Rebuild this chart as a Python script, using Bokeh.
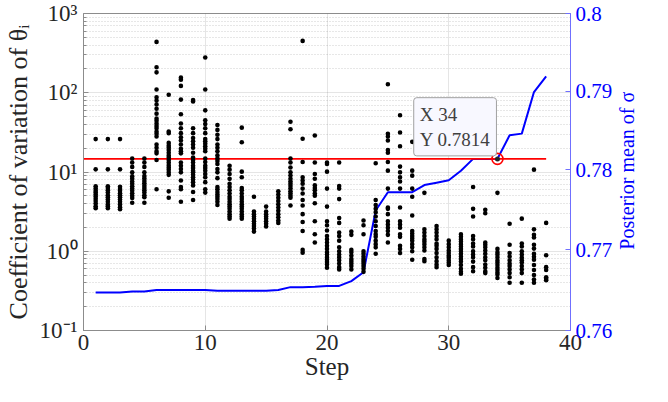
import math
from bokeh.plotting import figure
from bokeh.models import (Range1d, LinearAxis, FixedTicker, CustomJSTickFormatter,
                          ColumnDataSource, Label)
from bokeh.embed import file_html
from bokeh.resources import INLINE

# ---------------- data ----------------
steps = list(range(1, 39))

cv_step01 = [26, 10.8, 6.6, 6.2, 5.8, 5.5, 5.2, 4.9, 4.6, 4.3, 4.0, 3.7, 3.5]
cv_step02 = [26, 10.8, 6.6, 6.3, 5.9, 5.5, 5.1, 4.8, 4.5, 4.2, 3.9, 3.7, 3.5]
cv_step03 = [26, 10.8, 6.5, 6.1, 5.8, 5.4, 5.1, 4.8, 4.5, 4.2, 3.9, 3.6, 3.4]
cv_step04 = [14.8, 13.2, 11.6, 9.9, 8.8, 8.2, 7.6, 7.1, 6.6, 6.2, 5.8, 5.4, 5.0, 4.7, 4.1]
cv_step05 = [14.8, 13.2, 11.6, 9.9, 8.9, 8.3, 7.7, 7.2, 6.7, 6.3, 5.9, 5.5, 5.1, 4.8, 4.1]
cv_step06 = [438, 210, 181, 110, 87.6, 79.6, 71, 62.9, 54.5, 47.3, 44.3, 41, 38, 35.6,
             32.4, 30.3, 28.1, 22.2, 20.2, 18.3, 17.2, 14.2, 6.05]
cv_step07 = [94.5, 32.4, 30.9, 23.3, 21.5, 20.2, 18.9, 17.5, 16.2, 15.2, 14.2, 13.2,
             12.2, 11.4, 10.7, 9.9, 9.2, 5.7, 4.73]
cv_step08 = [155, 146, 122, 82, 53.5, 41, 35.6, 30.9, 27.5, 25, 22.2, 19.6, 18.3, 17.2,
             13.2, 12, 10.9, 9.9, 7.8, 6.47, 6.05, 4.22]
cv_step09 = [81, 77.4, 35.6, 30.9, 26.8, 24.4, 22.2, 20.2, 17.5, 15.2, 14.2, 13.2, 12,
             11.2, 10.4, 9.9, 9.2, 8.6, 8.04, 7.45, 6.78, 5.6, 4.43]
cv_step10 = [278, 110, 60, 45, 40.3, 35.6, 30.9, 26, 24.4, 22.8, 21.1, 19.6, 18.3, 14.8,
             13.4, 12, 11.2, 10.4, 9.45, 8.6, 7.45, 6.05, 5.5]
cv_step11 = [39.2, 34, 29.5, 26, 22.2, 20.2, 18.3, 16.2, 14.8, 13.8, 12.6, 10.9, 9.9,
             8.36, 6.47, 6.05, 5.6, 5.2, 4.87, 4.55, 4.22, 3.84]
cv_step12 = [12, 10.7, 9.45, 8.2, 7.1, 6.47, 5.89, 5.35, 4.87, 4.55, 4.22, 3.92, 3.66,
             3.43, 3.18, 2.94, 2.75, 2.58]
cv_step13 = [36.3, 23.7, 10.1, 8.6, 6.28, 5.89, 5.35, 4.87, 4.55, 4.22, 3.92, 3.66, 3.43,
             3.18, 2.94, 2.75, 2.58]
cv_step14 = [4.87, 3.18, 2.94, 2.75, 2.58, 2.39, 2.22, 2.08, 1.94, 1.77]
cv_step15 = [3.66, 3.18, 2.94, 2.75, 2.58, 2.39, 2.22, 2.06]
cv_step16 = [5.7, 5.2, 4.73, 4.3, 3.92, 3.56, 3.24, 2.94, 2.68, 2.44, 2.28]
cv_step17 = [43, 34.6, 14.8, 13.2, 11.4, 9.9, 9.02, 8.2, 7.6, 7.1, 6.65, 6.17, 5.7, 5.35,
             5.01, 4.73, 3.77]
cv_step18 = [451, 26.3, 13.4, 8.6, 7.8, 7.1, 6.17, 5.35, 4.43, 3.77, 2.94, 2.34, 1.8,
             1.04, 0.96]
cv_step19 = [28.9, 13.2, 9.45, 8.2, 6.78, 6.28, 5.89, 5.35, 5.01, 4.03, 2.39, 1.64, 1.29]
cv_step20 = [13.2, 12.6, 10.1, 6.17, 3.66, 2.39, 2.13, 1.83, 1.56, 1.42, 1.29, 1.17, 1.07,
             0.97, 0.91, 0.84, 0.78, 0.73, 0.68, 0.62]
cv_step21 = [13.2, 6.65, 6.17, 4.55, 2.63, 2.28, 1.72, 1.56, 1.36, 1.12, 1.0, 0.91, 0.84,
             0.77, 0.70, 0.63, 0.59]
cv_step22 = [1.77, 1.61, 1.04, 0.97, 0.88, 0.80, 0.75, 0.70, 0.65, 0.59]
cv_step23 = [2.44, 2.13, 1.64, 1.0, 0.93, 0.86, 0.80, 0.75, 0.70, 0.65, 0.60, 0.55]
cv_step24 = [12.9, 4.43, 3.84, 3.43, 3.1, 2.75, 2.39, 2.08, 1.8, 1.64, 1.52, 1.36, 1.23,
             1.12, 0.93]
cv_step25 = [128, 30.3, 28.1, 25, 18.9, 17.5, 13.4, 10.4, 6.17, 3.56, 3.43, 2.94, 2.39,
             2.17, 1.98, 1.8, 1.61, 1.29]
cv_step26 = [52, 31.5, 21.1, 11.7, 9.9, 8.6, 7.6, 6.17, 3.56, 2.39, 2.17, 1.98, 1.64,
             1.52, 1.17, 1.07, 0.95]
cv_step27 = [24, 10.4, 9.0, 6.17, 4.87, 2.83, 1.8, 1.67, 1.56, 1.46, 1.36, 1.23, 1.12,
             1.0, 0.78]
cv_step28 = [5.46, 1.89, 1.72, 1.56, 1.42, 1.33, 1.23, 1.12, 1.02, 0.80, 0.75]
cv_step29 = [2.08, 1.89, 1.72, 1.56, 1.42, 1.25, 1.17, 1.07, 0.95, 0.84, 0.75, 0.68, 0.63]
cv_step30 = [1.36, 1.23, 1.12, 1.02, 0.95, 0.88, 0.83, 0.77, 0.72, 0.67]
cv_step31 = [1.64, 1.52, 1.42, 1.33, 1.23, 1.15, 1.07, 1.0, 0.93, 0.86, 0.80, 0.74, 0.67,
             0.60, 0.55, 0.52]
cv_step32 = [6.47, 3.43, 2.75, 1.56, 1.42, 1.25, 1.15, 1.0, 0.91, 0.84, 0.74, 0.63, 0.56]
cv_step33 = [3.33, 3.02, 1.29, 1.21, 1.12, 1.02, 0.93, 0.84, 0.77, 0.68, 0.62, 0.56, 0.53]
cv_step34 = [5.46, 1.07, 0.97, 0.91, 0.84, 0.77, 0.72, 0.67, 0.62, 0.58, 0.54, 0.51, 0.46]
cv_step35 = [2.22, 1.21, 0.95, 0.86, 0.77, 0.70, 0.65, 0.59, 0.53, 0.47, 0.40]
cv_step36 = [2.58, 1.25, 1.15, 1.0, 0.91, 0.83, 0.77, 0.72, 0.65, 0.59, 0.53, 0.40]
cv_step37 = [10.7, 1.89, 1.61, 1.49, 1.21, 1.08, 0.93, 0.85, 0.78, 0.67, 0.58, 0.50,
             0.44, 0.40]
cv_step38 = [2.28, 0.89, 0.63, 0.58, 0.47, 0.45, 0.43]

sigma_mean = [0.7647, 0.7647, 0.7647, 0.7648, 0.7648, 0.7650, 0.7650, 0.7650, 0.7650,
              0.7650, 0.7649, 0.7649, 0.7649, 0.7649, 0.7649, 0.7650, 0.76535, 0.76535,
              0.7654, 0.7655, 0.7655, 0.7661, 0.7672, 0.7749, 0.7772, 0.7772, 0.7772,
              0.7781, 0.7784, 0.7787, 0.7799, 0.7814, 0.7814, 0.7814, 0.7844, 0.7846,
              0.7899, 0.7919]

red_level = 0.7814
red_x = [0, 38]
tip_step = 34

x_ticks = [0, 10, 20, 30, 40]
cv_ticks = [0.1, 1, 10, 100, 1000]
sigma_ticks = [0.76, 0.77, 0.78, 0.79, 0.8]

x_label = "Step"
left_label = "Coefficient of variation of \u03b8\u1d62"
right_label = "Posterior mean of \u03c3"

cv_columns = [cv_step01, cv_step02, cv_step03, cv_step04, cv_step05, cv_step06,
              cv_step07, cv_step08, cv_step09, cv_step10, cv_step11, cv_step12,
              cv_step13, cv_step14, cv_step15, cv_step16, cv_step17, cv_step18,
              cv_step19, cv_step20, cv_step21, cv_step22, cv_step23, cv_step24,
              cv_step25, cv_step26, cv_step27, cv_step28, cv_step29, cv_step30,
              cv_step31, cv_step32, cv_step33, cv_step34, cv_step35, cv_step36,
              cv_step37, cv_step38]

# ---------------- figure ----------------
FONT = "Liberation Serif"
AX_GREY = "#8c8c8c"
TXT = "#262626"
BLUE = "#0000ff"

p = figure(width=652, height=386,
           x_range=Range1d(x_ticks[0], x_ticks[-1]),
           y_range=Range1d(cv_ticks[0], cv_ticks[-1]),
           y_axis_type="log", output_backend="svg", toolbar_location=None,
           min_border_left=79, min_border_right=60, min_border_top=13,
           min_border_bottom=56, background_fill_color="white",
           border_fill_color="white")
p.extra_y_ranges = {"sig": Range1d(sigma_ticks[0], sigma_ticks[-1])}
p.outline_line_color = AX_GREY
p.outline_line_width = 1

# minor log ticks 2..9 per decade (axis configuration)
minor_cv = [m * t for t in cv_ticks[:-1] for m in range(2, 10)]

# grids
p.xgrid.ticker = FixedTicker(ticks=x_ticks)
p.xgrid.grid_line_color = TXT
p.xgrid.grid_line_alpha = 0.12
p.ygrid.ticker = FixedTicker(ticks=cv_ticks, minor_ticks=minor_cv)
p.ygrid.grid_line_color = TXT
p.ygrid.grid_line_alpha = 0.12
p.ygrid.minor_grid_line_color = TXT
p.ygrid.minor_grid_line_alpha = 0.22
p.ygrid.minor_grid_line_dash = "1 2"

# x axis
xa = p.xaxis[0]
xa.ticker = FixedTicker(ticks=x_ticks)
xa.axis_label = x_label
xa.axis_line_color = AX_GREY
xa.major_tick_line_color = AX_GREY
xa.major_tick_in = 5
xa.major_tick_out = 0
xa.minor_tick_line_color = None
xa.major_label_text_font = FONT
xa.major_label_text_font_size = "23px"
xa.major_label_text_color = TXT
xa.major_label_standoff = 4
xa.axis_label_text_font = FONT
xa.axis_label_text_font_size = "25px"
xa.axis_label_text_font_style = "normal"
xa.axis_label_text_color = TXT
xa.axis_label_standoff = 0

# left (log) axis
ya = p.yaxis[0]
ya.ticker = FixedTicker(ticks=cv_ticks, minor_ticks=minor_cv)
ya.formatter = CustomJSTickFormatter(code="""
const e = Math.round(Math.log10(tick));
const sup = {'-':'\u207b','0':'\u2070','1':'\u00b9','2':'\u00b2','3':'\u00b3',
             '4':'\u2074','5':'\u2075','6':'\u2076','7':'\u2077','8':'\u2078','9':'\u2079'};
return '10' + String(e).split('').map(c => sup[c]).join('');
""")
ya.axis_label = left_label
ya.axis_line_color = AX_GREY
ya.major_tick_line_color = AX_GREY
ya.minor_tick_line_color = AX_GREY
ya.major_tick_in = 5
ya.major_tick_out = 0
ya.minor_tick_in = 3
ya.minor_tick_out = 0
ya.major_label_text_font = FONT
ya.major_label_text_font_size = "23px"
ya.major_label_text_color = TXT
ya.major_label_standoff = 6
ya.axis_label_text_font = FONT
ya.axis_label_text_font_size = "26px"
ya.axis_label_text_font_style = "normal"
ya.axis_label_text_color = TXT
ya.axis_label_standoff = 4

# right axis with ticks
ra = LinearAxis(y_range_name="sig", ticker=FixedTicker(ticks=sigma_ticks),
                formatter=CustomJSTickFormatter(code="return String(Math.round(tick*100)/100);"))
ra.axis_line_color = "#6f6fff"
ra.major_tick_line_color = "#6f6fff"
ra.major_tick_in = 5
ra.major_tick_out = 0
ra.minor_tick_line_color = None
ra.major_label_text_font = FONT
ra.major_label_text_font_size = "21px"
ra.major_label_text_color = BLUE
ra.major_label_standoff = 5
p.add_layout(ra, "right")

# outer right axis whose single rotated tick label is the title (reads bottom-to-top,
# starting at the tick position)
title_start = 0.7700
rl = LinearAxis(y_range_name="sig", ticker=FixedTicker(ticks=[title_start]),
                formatter=CustomJSTickFormatter(args=dict(t=right_label), code="return t;"))
rl.axis_line_color = None
rl.major_tick_line_color = None
rl.minor_tick_line_color = None
rl.major_tick_in = 0
rl.major_tick_out = 0
rl.minor_tick_in = 0
rl.minor_tick_out = 0
rl.major_label_orientation = math.pi / 2
rl.major_label_text_font = FONT
rl.major_label_text_font_size = "20px"
rl.major_label_text_color = BLUE
rl.major_label_standoff = 12
p.add_layout(rl, "right")

# ---------------- glyphs ----------------
xs, ys = [], []
for s, col in zip(steps, cv_columns):
    for v in col:
        xs.append(s)
        ys.append(v)
dots = ColumnDataSource(data=dict(x=xs, y=ys))

p.line(steps, sigma_mean, y_range_name="sig", line_color=BLUE, line_width=2)
p.line(red_x, [red_level, red_level], y_range_name="sig", line_color="#ff0000",
       line_width=1.6)
p.scatter("x", "y", source=dots, marker="circle", size=4.6, fill_color="black",
          line_color=None)

tip_y = sigma_mean[tip_step - 1]
p.scatter([tip_step], [tip_y], y_range_name="sig", marker="circle", size=5,
          fill_color="#262626", line_color=None)
p.scatter([tip_step], [tip_y], y_range_name="sig", marker="circle", size=11,
          fill_color=None, line_color="#ff0000", line_width=1.6)

tip = Label(x=tip_step, y=tip_y, y_range_name="sig",
            text=f"X {tip_step}\nY {tip_y:.4f}",
            anchor="bottom_right", x_offset=-1, y_offset=3,
            text_font=FONT, text_font_size="19px", text_color="#404040",
            background_fill_color="#f8f8ff", border_line_color="#a0a0a0",
            border_line_width=1, border_radius=3, padding=6)
p.add_layout(tip)

open("out.html", "w").write(file_html(p, INLINE))
